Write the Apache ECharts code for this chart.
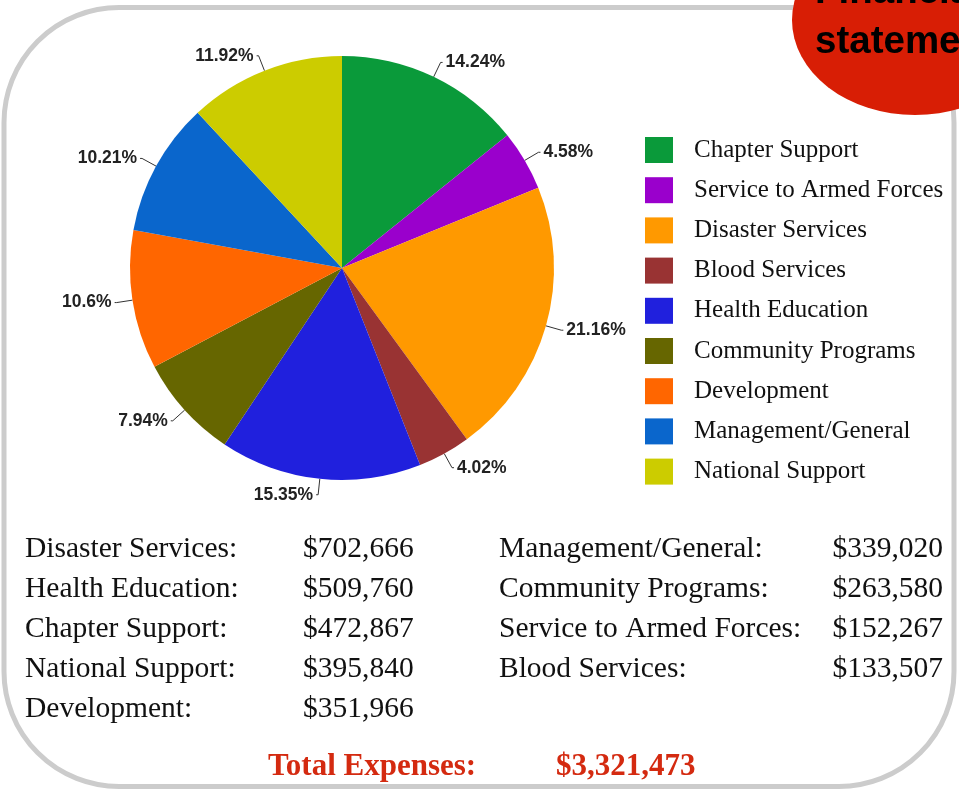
<!DOCTYPE html>
<html><head><meta charset="utf-8">
<script src="https://cdn.jsdelivr.net/npm/echarts@6/dist/echarts.min.js"></script>
<style>html,body{margin:0;padding:0;background:#fff}#c{width:959px;height:789px}</style>
</head><body><div id="c"></div>
<script>
// categories in pie order (clockwise from 12 o'clock)
const categories = ['Chapter Support','Service to Armed Forces','Disaster Services','Blood Services','Health Education','Community Programs','Development','Management/General','National Support'];
const values = [472867,152267,702666,133507,509760,263580,351966,339020,395840];
const colors = ['#0a9a3a','#9a00cc','#ff9900','#993333','#2020dd','#666600','#ff6600','#0a66cc','#cccc00'];
const titleLines = ['Financial','statements'];
const totalLabel = 'Total Expenses:';

const fmt = v => '$' + v.toLocaleString('en-US');
const total = values.reduce((a,b)=>a+b,0);
const pct = v => parseFloat((v/total*100).toFixed(2)) + '%';
const sorted = categories.map((c,i)=>({c, v: values[i]})).sort((a,b)=>b.v-a.v);
const leftCol = sorted.slice(0,5), rightCol = sorted.slice(5);

const serif = '"Liberation Serif", "DejaVu Serif", serif';
const bodyFont = '29.5px ' + serif;
const graphics = [
  {type:'rect', z:0, shape:{x:4, y:7.5, width:950, height:779, r:115}, style:{fill:'#fff', stroke:'#cccccc', lineWidth:5}},
  {type:'circle', z:10, x:915, y:20, scaleX:123/95, scaleY:1, shape:{cx:0, cy:0, r:95}, style:{fill:'#d81e05'}},
  {type:'text', z:11, x:815, y:12, style:{text:titleLines[0], font:'bold 38.5px "Liberation Sans", Arial, sans-serif', fill:'#000', verticalAlign:'bottom'}},
  {type:'text', z:11, x:815, y:62, style:{text:titleLines[1], font:'bold 38.5px "Liberation Sans", Arial, sans-serif', fill:'#000', verticalAlign:'bottom'}}
];
leftCol.forEach((d,i)=>{
  const y = 549 + i*40;
  graphics.push({type:'text', z:5, x:25, y, style:{text:d.c+':', font:bodyFont, fill:'#111', verticalAlign:'middle'}});
  graphics.push({type:'text', z:5, x:303, y, style:{text:fmt(d.v), font:bodyFont, fill:'#111', verticalAlign:'middle'}});
});
rightCol.forEach((d,i)=>{
  const y = 549 + i*40;
  graphics.push({type:'text', z:5, x:499, y, style:{text:d.c+':', font:bodyFont, fill:'#111', verticalAlign:'middle'}});
  graphics.push({type:'text', z:5, x:943, y, style:{text:fmt(d.v), font:bodyFont, fill:'#111', align:'right', verticalAlign:'middle'}});
});
graphics.push({type:'text', z:5, x:268, y:767, style:{text:totalLabel, font:'bold 31px '+serif, fill:'#d42a10', verticalAlign:'middle'}});
graphics.push({type:'text', z:5, x:556, y:767, style:{text:fmt(total), font:'bold 31px '+serif, fill:'#d42a10', verticalAlign:'middle'}});

const chart = echarts.init(document.getElementById('c'));
chart.setOption({
  animation:false,
  color: colors,
  graphic: graphics,
  legend: {
    orient:'vertical', left:645, top:137, padding:0, itemWidth:28, itemHeight:26, itemGap:14.2,
    icon:'rect', data: categories,
    textStyle:{fontFamily:serif, fontSize:25, color:'#111', padding:[0,0,0,16]}
  },
  series:[{
    type:'pie', center:[342,268], radius:212, startAngle:90, clockwise:true,
    data: categories.map((c,i)=>({name:c, value:values[i]})),
    label:{show:true, position:'outside', formatter:p=>pct(p.value), fontFamily:'"Liberation Sans", Arial, sans-serif', fontWeight:'bold', fontSize:17.5, color:'#222', distanceToLabelLine:3},
    labelLine:{show:true, length:16, length2:2, smooth:false, lineStyle:{color:'#333', width:1}},
    itemStyle:{borderWidth:0},
    emphasis:{disabled:true}
  }]
});
</script></body></html>
